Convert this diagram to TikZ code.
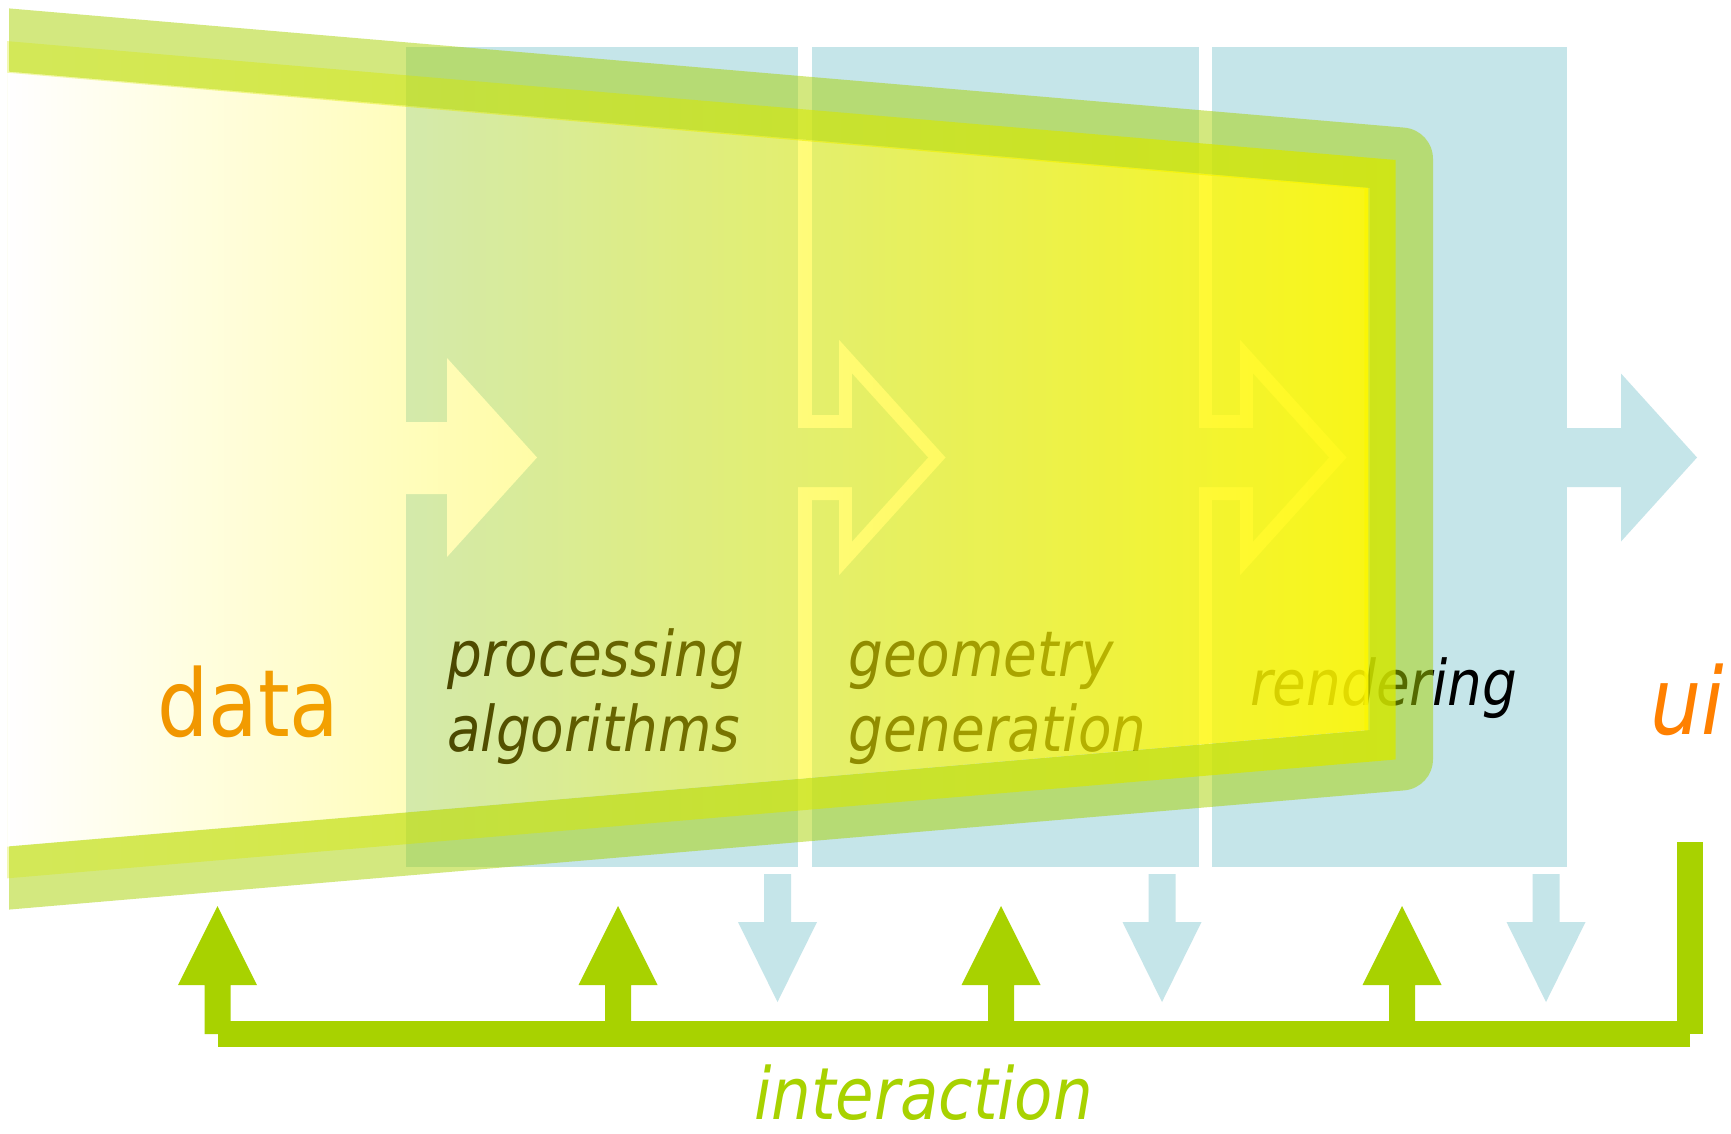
\documentclass[tikz,border=0pt]{standalone}
\usepackage{fontspec}
\newfontfamily\lblfont[FakeStretch=0.87]{DejaVu Sans}
\usetikzlibrary{fadings}

\definecolor{panelblue}{RGB}{197,229,233}
\definecolor{bandgreen}{RGB}{168,210,0}
\definecolor{limeband}{RGB}{214,232,0}
\definecolor{fillyellow}{RGB}{255,248,0}
\definecolor{intgreen}{RGB}{168,210,0}
\definecolor{dataorange}{RGB}{240,138,0}
\definecolor{uiorange}{RGB}{255,128,0}
\definecolor{textdark}{RGB}{0,0,0}

% opacity ramps for the pipeline body
\tikzfading[name=yfade, left color=transparent!100, right color=transparent!10]
\tikzfading[name=bfade, left color=transparent!70, right color=transparent!22]

\begin{document}
\begin{tikzpicture}[x=1pt,y=-1pt,
  stagepanel/.style={fill=panelblue},
  gapline/.style={draw=white, line width=26pt, line join=miter, miter limit=10},
  bandouter/.style={draw=bandgreen, draw opacity=0.5, line width=63pt, line join=round},
  lbltext/.style={inner sep=0pt, anchor=base west},
  stagefont/.style={font=\lblfont\itshape\fontsize{63}{70}\selectfont, text=textdark},
  busline/.style={draw=intgreen, line width=26pt, line cap=butt},
  uparrow/.pic={\fill[intgreen] (-13,0) rectangle (13,-49)
                 (-39.5,-49) -- (39.5,-49) -- (0,-128) -- cycle;},
  downarrow/.pic={\fill[panelblue] (-13.5,0) rectangle (13.5,48)
                 (-39.5,48) -- (39.5,48) -- (0,128) -- cycle;}
]
\useasboundingbox (0,0) rectangle (1731,1134);
\fill[white] (0,0) rectangle (1731,1134);

% ---- stage panels ----
\fill[stagepanel] (406,47) rectangle (798,867);
\fill[stagepanel] (812,47) rectangle (1199,867);
\fill[stagepanel] (1212,47) rectangle (1567,867);

% arrows joining consecutive stages, separated by a white gap
\foreach \R in {798,1199} {
  \draw[gapline] (\R,428) -- (\R+54,428) -- (\R+54,373.5) -- (\R+130,457.5)
                 -- (\R+54,541.5) -- (\R+54,487) -- (\R,487);
  \fill[stagepanel] (\R,428) -- (\R+54,428) -- (\R+54,373.5) -- (\R+130,457.5)
                 -- (\R+54,541.5) -- (\R+54,487) -- (\R,487) -- cycle;
}
% output arrow towards the ui
\fill[stagepanel] (1566,428) -- (1621,428) -- (1621,373.5) -- (1697,457.5)
                 -- (1621,541.5) -- (1621,487) -- (1566,487) -- cycle;
% input arrow from the data
\fill[white] (400,422) -- (447,422) -- (447,358) -- (537,457.5)
             -- (447,557) -- (447,494) -- (400,494) -- cycle;

% ---- labels (under the translucent body) ----
\node[lbltext, text=dataorange, font=\lblfont\fontsize{93}{100}\selectfont] (data) at (157,736) {data};
\node[lbltext, stagefont] (procA) at (447,676) {processing};
\node[lbltext, stagefont] (procB) at (447,751) {algorithms};
\node[lbltext, stagefont] (geomA) at (848,676) {geometry};
\node[lbltext, stagefont] (geomB) at (848,751) {generation};
\node[lbltext, stagefont] (rend) at (1250,705) {rendering};

% ---- translucent pipeline body ----
\begin{scope}
  \clip (9,0) rectangle (1731,1134);
  \draw[bandouter] (-30,36.7) -- (1401.5,159) -- (1401.5,759) -- (-30,881.3);
\end{scope}
\fill[limeband, even odd rule, path fading=bfade]
  (9,40) -- (1401.5,159) -- (1401.5,759) -- (9,878) -- cycle
  (9,71.6) -- (1370,187.9) -- (1370,730.1) -- (9,846.4) -- cycle;
\fill[fillyellow, path fading=yfade]
  (9,71.6) -- (1370,187.9) -- (1370,730.1) -- (9,846.4) -- cycle;

% ---- ui and interaction ----
\node[lbltext, text=uiorange, font=\lblfont\itshape\fontsize{93}{100}\selectfont] (ui) at (1650,734) {ui};

\coordinate (uiend) at (1690,842);
\coordinate (busR) at (1690,1034);
\coordinate (busL) at (217.5,1034);
\draw[busline] (uiend) -- (busR);
\draw[busline] (busR) -- (busL);

\foreach \x [count=\i] in {217.5,618,1001,1402} {
  \coordinate (up\i) at (\x,1034);
  \pic at (up\i) {uparrow};
}
\foreach \x [count=\i] in {777.5,1162,1546} {
  \coordinate (dn\i) at (\x,874);
  \pic at (dn\i) {downarrow};
}

\node[lbltext, text=intgreen, font=\lblfont\itshape\fontsize{72}{80}\selectfont] (inter) at (754,1119) {interaction};
\end{tikzpicture}
\end{document}
